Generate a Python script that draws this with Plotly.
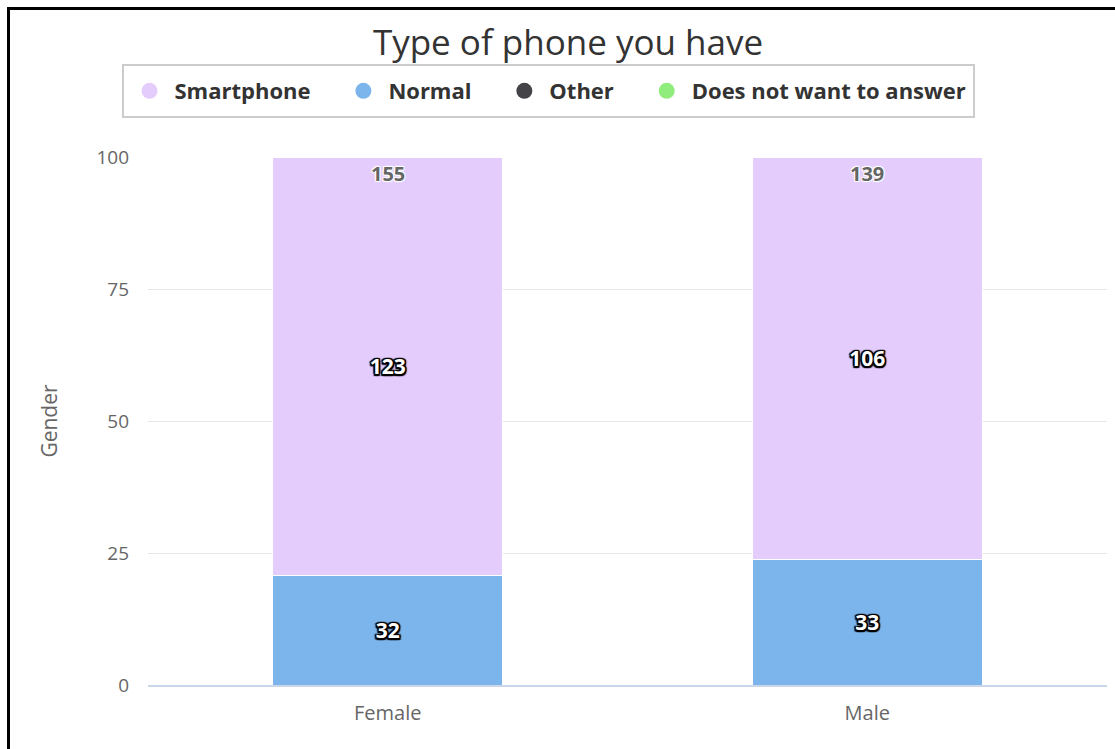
import plotly.graph_objects as go

categories = ["Female", "Male"]
series_names = ["Smartphone", "Normal", "Other", "Does not want to answer"]
smartphone = [123, 106]
normal = [32, 33]
other = [0, 0]
no_answer = [0, 0]
series_values = [smartphone, normal, other, no_answer]
colors = ["#e4cdfc", "#7cb5ec", "#434348", "#90ed7d"]
y_ticks = [0, 25, 50, 75, 100]

W, H = 1115, 749
ML, MR, MT, MB = 148, 8, 157, 64
PW, PH = W - ML - MR, H - MT - MB

FONT = "Open Sans"
outline_black = ("1.5px 1.5px 1px #000, -1.5px -1.5px 1px #000, 1.5px -1.5px 1px #000, "
                 "-1.5px 1.5px 1px #000, 0 1.5px 1px #000, 0 -1.5px 1px #000, "
                 "1.5px 0 1px #000, -1.5px 0 1px #000")
outline_white = ("1px 1px 1px #fff, -1px -1px 1px #fff, 1px -1px 1px #fff, "
                 "-1px 1px 1px #fff")

fig = go.Figure()
# Highcharts-style stacking: first series on top, so add bars in reverse order
for name, vals, col in reversed(list(zip(series_names, series_values, colors))):
    fig.add_trace(go.Bar(
        x=categories, y=vals, name=name, marker=dict(color=col, line=dict(color="#ffffff", width=1)),
        text=[str(v) if v else "" for v in vals], texttemplate="%{text}",
        textposition="inside", insidetextanchor="middle", textangle=0,
        insidetextfont=dict(family=FONT, size=21, color="#ffffff", weight="bold", shadow=outline_black),
        constraintext="none", showlegend=False, hoverinfo="skip",
    ))

# legend entries with circular symbols, in original order
for i, (name, col) in enumerate(zip(series_names, colors)):
    label = name + ("\u00a0" * 4 if i < len(series_names) - 1 else "\u00a0")
    fig.add_trace(go.Scatter(
        x=[None], y=[None], mode="markers", name=label,
        marker=dict(symbol="circle", size=20, color=col), showlegend=True,
    ))

totals = [sum(v) for v in zip(*series_values)]
for cat, tot in zip(categories, totals):
    fig.add_annotation(x=cat, y=100, xref="x", yref="y", text=str(tot), showarrow=False,
                       yanchor="top", yshift=-1,
                       font=dict(family=FONT, size=20, color="#666666", weight="bold", shadow=outline_white))

# pixel -> paper helpers for decorations
def px_to_paper_x(px):
    return (px - ML) / PW

def px_to_paper_y(py):
    return (H - MB - py) / PH

# frame lines (black border top/left)
fig.add_shape(type="path", xref="paper", yref="paper",
              path=f"M {px_to_paper_x(8.5)},{px_to_paper_y(760)} L {px_to_paper_x(8.5)},{px_to_paper_y(8.5)} L {px_to_paper_x(1130)},{px_to_paper_y(8.5)}",
              line=dict(color="#000000", width=3), layer="above")

# legend box
fig.add_shape(type="rect", xref="paper", yref="paper",
              x0=px_to_paper_x(123), x1=px_to_paper_x(974),
              y0=px_to_paper_y(117), y1=px_to_paper_y(65),
              line=dict(color="#cccccc", width=2), fillcolor="rgba(0,0,0,0)", layer="above")

fig.update_layout(
    width=W, height=H,
    margin=dict(l=ML, r=MR, t=MT, b=MB),
    barmode="stack", barnorm="percent", bargap=0.52,
    paper_bgcolor="#ffffff", plot_bgcolor="#ffffff",
    font=dict(family=FONT, color="#666666"),
    title=dict(text="Type of phone you have", x=568 / W, xanchor="center", xref="container",
               y=1 - 30 / H, yanchor="top", yref="container",
               font=dict(family=FONT, size=35, color="#333333")),
    legend=dict(orientation="h", xref="container", yref="container", traceorder="normal",
                x=551 / W, xanchor="center", y=1 - 91 / H, yanchor="middle",
                borderwidth=0, bgcolor="rgba(0,0,0,0)", itemwidth=40,
                font=dict(family=FONT, size=22, color="#333333", weight="bold")),
    xaxis=dict(showgrid=False, showline=True, linecolor="#ccd6eb", linewidth=2,
               ticks="", tickfont=dict(family=FONT, size=20, color="#666666"),
               ticklabelstandoff=9, fixedrange=True),
    yaxis=dict(range=[0, 100], tickvals=y_ticks, ticktext=[str(t) for t in y_ticks],
               showgrid=True, gridcolor="#e6e6e6", gridwidth=1, zeroline=False, showline=False,
               tickfont=dict(family=FONT, size=19, color="#666666"), ticklabelstandoff=18,
               title=dict(text="Gender", font=dict(family=FONT, size=21, color="#666666"), standoff=33)),
)

fig.write_html("out.html")
